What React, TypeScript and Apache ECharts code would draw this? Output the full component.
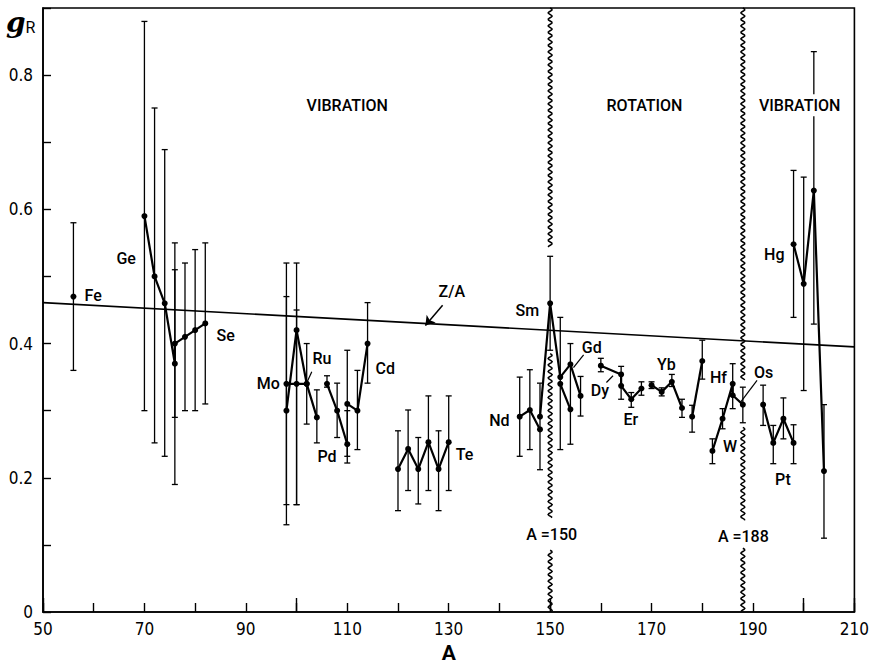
import React, { useEffect, useRef } from "react";
import * as echarts from "echarts";

// ---- Data ----
const xMin = 50;
const xMax = 210;
const yMin = 0;
const yMax = 0.9;

const feChain = [[56, 0.47]];
const geSeChain = [[70, 0.59], [72, 0.5], [74, 0.46], [76, 0.37], [76, 0.4], [78, 0.41], [80, 0.42], [82, 0.43]];
const moChainA = [[98, 0.3], [100, 0.42], [102, 0.34], [104, 0.29]];
const moChainB = [[98, 0.34], [100, 0.34], [102, 0.34]];
const pdChain = [[106, 0.34], [108, 0.3], [110, 0.25]];
const cdChain = [[110, 0.31], [112, 0.3], [114, 0.4]];
const teChain = [[120, 0.213], [122, 0.243], [124, 0.213], [126, 0.253], [128, 0.213], [130, 0.253]];
const ndChain = [[144, 0.291], [146, 0.301], [148, 0.272]];
const smGdChain = [[148, 0.291], [150, 0.46], [152, 0.35], [154, 0.369], [156, 0.322]];
const smGdChain2 = [[152, 0.34], [154, 0.302]];
const dyErChain = [[160, 0.367], [164, 0.354], [164, 0.337], [166, 0.317], [168, 0.333]];
const ybChain = [[170, 0.338], [172, 0.328], [174, 0.343], [176, 0.304]];
const hfChain = [[178, 0.291], [180, 0.374]];
const wOsChain = [[182, 0.24], [184, 0.288], [186, 0.34], [186, 0.323], [188, 0.309]];
const ptChain = [[192, 0.309], [194, 0.252], [196, 0.288], [198, 0.252]];
const hgChain = [[198, 0.548], [200, 0.489], [202, 0.628], [204, 0.21]];

const chains = [feChain, geSeChain, moChainA, moChainB, pdChain, cdChain, teChain, ndChain, smGdChain, smGdChain2, dyErChain, ybChain, hfChain, wOsChain, ptChain, hgChain];

// error bars: [A, low, high]
const errorBars = [
  [56, 0.36, 0.58],
  [70, 0.3, 0.88], [72, 0.252, 0.751], [74, 0.232, 0.689],
  [76, 0.19, 0.55], [76, 0.29, 0.51], [78, 0.3, 0.52], [80, 0.3, 0.54], [82, 0.31, 0.55],
  [98, 0.13, 0.47], [98, 0.16, 0.52], [100, 0.16, 0.52], [100, 0.16, 0.45],
  [102, 0.28, 0.4], [104, 0.252, 0.331], [106, 0.335, 0.352], [108, 0.26, 0.341],
  [110, 0.222, 0.39], [110, 0.232, 0.3], [112, 0.242, 0.36], [114, 0.341, 0.461],
  [120, 0.151, 0.27], [122, 0.181, 0.301], [124, 0.161, 0.26], [126, 0.181, 0.322], [128, 0.151, 0.27], [130, 0.181, 0.322],
  [144, 0.232, 0.35], [146, 0.242, 0.361], [148, 0.212, 0.341],
  [150, 0.39, 0.53], [152, 0.242, 0.439], [154, 0.25, 0.4], [156, 0.292, 0.351],
  [160, 0.358, 0.378], [164, 0.317, 0.366], [166, 0.305, 0.327], [168, 0.323, 0.343],
  [170, 0.333, 0.343], [172, 0.322, 0.334], [174, 0.336, 0.354], [176, 0.29, 0.317],
  [178, 0.268, 0.308], [180, 0.347, 0.405],
  [182, 0.221, 0.258], [184, 0.273, 0.303], [186, 0.303, 0.37], [188, 0.282, 0.335],
  [192, 0.278, 0.338], [194, 0.221, 0.278], [196, 0.258, 0.319], [198, 0.221, 0.279],
  [198, 0.439, 0.658], [200, 0.33, 0.648], [202, 0.429, 0.835], [204, 0.11, 0.309],
];

const zOverA = [[50, 0.461], [210, 0.395]];

// wavy boundary lines: [A, from, to]
const boundaries = [
  [150, 0.543, 0.9], [150, 0.14, 0.385], [150, 0, 0.092],
  [188, 0.345, 0.9], [188, 0.135, 0.275], [188, 0, 0.095],
];

// element / region annotations: [text, A, g]
const elementLabels = [
  ["Fe", 59.9, 0.472], ["Ge", 66.4, 0.527], ["Se", 86.0, 0.412], ["Mo", 94.4, 0.34],
  ["Ru", 105.0, 0.378], ["Pd", 106.0, 0.232], ["Cd", 117.5, 0.363], ["Te", 133.1, 0.234],
  ["Nd", 140.0, 0.285], ["Sm", 145.5, 0.449], ["Gd", 158.2, 0.394], ["Dy", 159.8, 0.33],
  ["Er", 165.9, 0.287], ["Yb", 172.9, 0.369], ["Hf", 183.2, 0.349], ["W", 185.5, 0.246],
  ["Os", 192.1, 0.357], ["Pt", 195.9, 0.197], ["Hg", 194.2, 0.533], ["Z/A", 130.6, 0.477],
  ["A =150", 150.3, 0.116], ["A =188", 188.1, 0.113],
];
const regionLabels = [["VIBRATION", 110, 0.755], ["ROTATION", 168.6, 0.755], ["VIBRATION", 199.2, 0.755]];

const pointers = [
  [[103.0, 0.358], [102.1, 0.343]],
  [[156.6, 0.383], [154.6, 0.364]],
  [[161.1, 0.342], [162.4, 0.352]],
  [[190.8, 0.345], [187.6, 0.313]],
];
const zArrow = [[128.8, 0.457], [125.4, 0.427]];

const FONT = "'Liberation Sans Narrow', 'DejaVu Sans Condensed', Roboto, sans-serif";
const LFONT = "Roboto, 'Liberation Sans', sans-serif";

export default function App() {
  const ref = useRef<HTMLDivElement>(null);
  useEffect(() => {
    if (!ref.current) return;
    const chart = echarts.init(ref.current, null, { renderer: "svg" });

    const lineSeries = chains.map((c) => ({
      type: "line",
      data: c,
      xAxisIndex: 0,
      yAxisIndex: 0,
      symbol: "circle",
      symbolSize: 6,
      lineStyle: { color: "#000", width: 2.2 },
      itemStyle: { color: "#000" },
      z: 5,
    }));

    const option: any = {
      animation: false,
      backgroundColor: "#fff",
      grid: { left: 43, right: 17, top: 8, bottom: 53, show: true, borderColor: "#000", borderWidth: 1.6, backgroundColor: "transparent" },
      xAxis: [
        {
          type: "value", min: xMin, max: xMax, interval: 10,
          name: "A", nameLocation: "middle", nameGap: 30,
          nameTextStyle: { fontSize: 21, fontWeight: "bold", color: "#000", fontFamily: LFONT },
          axisLine: { show: true, onZero: false, lineStyle: { color: "#000", width: 1.6 } },
          axisTick: { show: true, inside: true, length: 9, lineStyle: { color: "#000", width: 1.4 } },
          axisLabel: {
            color: "#000", fontSize: 17, fontFamily: FONT, margin: 8,
            formatter: (v: number) => ((Math.round(v) - 50) % 20 === 0 ? String(Math.round(v)) : ""),
          },
          splitLine: { show: false },
        },
        {
          type: "value", min: xMin, max: xMax, interval: 50, position: "bottom",
          axisLine: { show: false },
          axisTick: { show: true, inside: true, length: 14, lineStyle: { color: "#000", width: 1.4 } },
          axisLabel: { show: false },
          splitLine: { show: false },
        },
      ],
      yAxis: {
        type: "value", min: yMin, max: yMax, interval: 0.1,
        axisLine: { show: true, onZero: false, lineStyle: { color: "#000", width: 1.6 } },
        axisTick: { show: true, inside: true, length: 8, lineStyle: { color: "#000", width: 1.4 } },
        axisLabel: {
          color: "#000", fontSize: 17, fontFamily: FONT, margin: 10,
          formatter: (v: number) => {
            const k = Math.round(v * 10);
            if (k === 0) return "0";
            if (k % 2 !== 0 || k > 8) return "";
            return (k / 10).toFixed(1);
          },
        },
        splitLine: { show: false },
      },
      graphic: [
        {
          type: "text", left: 6, top: 8,
          style: {
            text: "{g|g}{r|R}",
            rich: {
              g: { fontSize: 28, fontWeight: "bold", fontStyle: "italic", fontFamily: "'DejaVu Serif', serif", fill: "#000" },
              r: { fontSize: 16, fontFamily: LFONT, fill: "#000", padding: [10, 0, 0, 0] },
            },
          },
        },
      ],
      series: [
        {
          type: "line", data: zOverA, symbol: "none",
          lineStyle: { color: "#000", width: 1.6 }, z: 3,
        },
        {
          type: "custom",
          data: errorBars,
          encode: { x: 0, y: [1, 2] },
          z: 4,
          renderItem: (params: any, api: any) => {
            const a = api.value(0);
            const lo = api.coord([a, api.value(1)]);
            const hi = api.coord([a, api.value(2)]);
            const c = 3;
            const st = { stroke: "#000", lineWidth: 1.3 };
            return {
              type: "group",
              children: [
                { type: "line", shape: { x1: lo[0], y1: lo[1], x2: hi[0], y2: hi[1] }, style: st },
                { type: "line", shape: { x1: lo[0] - c, y1: lo[1], x2: lo[0] + c, y2: lo[1] }, style: st },
                { type: "line", shape: { x1: hi[0] - c, y1: hi[1], x2: hi[0] + c, y2: hi[1] }, style: st },
              ],
            };
          },
        },
        {
          type: "custom",
          data: boundaries,
          encode: { x: 0, y: [1, 2] },
          z: 4,
          renderItem: (params: any, api: any) => {
            const a = api.value(0);
            const b = api.coord([a, api.value(1)]);
            const t = api.coord([a, api.value(2)]);
            const pts: number[][] = [];
            for (let y = t[1]; y <= b[1]; y += 1) {
              pts.push([b[0] + 2 * Math.sin(((y - t[1]) / 6.5) * 2 * Math.PI), y]);
            }
            return { type: "polyline", shape: { points: pts }, style: { stroke: "#000", lineWidth: 1.5, fill: "none" } };
          },
        },
        ...lineSeries,
        {
          type: "lines", coordinateSystem: "cartesian2d",
          data: pointers.map((p) => ({ coords: p })),
          lineStyle: { color: "#000", width: 1.2, opacity: 1 },
          symbol: ["none", "none"], z: 4,
        },
        {
          type: "lines", coordinateSystem: "cartesian2d",
          data: [{ coords: zArrow }],
          lineStyle: { color: "#000", width: 1.5, opacity: 1 },
          symbol: ["none", "arrow"], symbolSize: 9, z: 4,
        },
        {
          type: "custom",
          data: elementLabels,
          encode: { x: 1, y: 2 },
          z: 6,
          renderItem: (params: any, api: any) => {
            const item = elementLabels[params.dataIndex];
            const p = api.coord([item[1], item[2]]);
            return {
              type: "text", x: p[0], y: p[1],
              style: { text: item[0], textAlign: "center", textVerticalAlign: "middle", fontSize: 16, fontWeight: 500, fontFamily: LFONT, fill: "#000" },
            };
          },
        },
        {
          type: "custom",
          data: regionLabels,
          encode: { x: 1, y: 2 },
          z: 7,
          renderItem: (params: any, api: any) => {
            const item = regionLabels[params.dataIndex];
            const p = api.coord([item[1], item[2]]);
            return {
              type: "text", x: p[0], y: p[1], z2: 10,
              style: {
                text: item[0], textAlign: "center", textVerticalAlign: "middle", fontSize: 16, fontWeight: 500,
                fontFamily: LFONT, fill: "#000", backgroundColor: "#fff", padding: [3, 2, 3, 2],
              },
            };
          },
        },
      ],
    };
    chart.setOption(option);
    return () => chart.dispose();
  }, []);
  return <div ref={ref} style={{ position: "absolute", left: 0, top: 0, width: 872, height: 668 }} />;
}
